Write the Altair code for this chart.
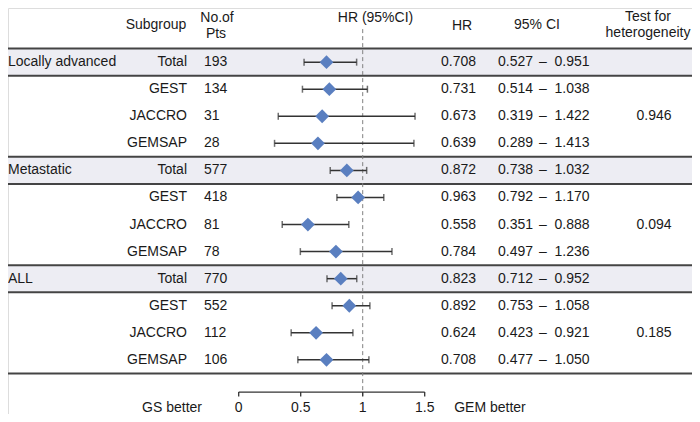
import altair as alt
import pandas as pd

# ---------------- data ----------------
groups = ["Locally advanced", "Metastatic", "ALL"]
subgroups = ["Total", "GEST", "JACCRO", "GEMSAP"]
n_pts = [193, 134, 31, 28, 577, 418, 81, 78, 770, 552, 112, 106]
hr = [0.708, 0.731, 0.673, 0.639, 0.872, 0.963, 0.558, 0.784, 0.823, 0.892, 0.624, 0.708]
ci_lo = [0.527, 0.514, 0.319, 0.289, 0.738, 0.792, 0.351, 0.497, 0.712, 0.753, 0.423, 0.477]
ci_hi = [0.951, 1.038, 1.422, 1.413, 1.032, 1.170, 0.888, 1.236, 0.952, 1.058, 0.921, 1.050]
het_p = ["0.946", "0.094", "0.185"]
axis_ticks = [0, 0.5, 1, 1.5]
axis_tick_labels = ["0", "0.5", "1", "1.5"]

rows = []
for gi, g in enumerate(groups):
    for si, s in enumerate(subgroups):
        k = gi * 4 + si
        rows.append(dict(
            row=k, group=g if si == 0 else "", sub=s, n=n_pts[k],
            hr=hr[k], lo=ci_lo[k], hi=ci_hi[k],
            het=het_p[gi] if si == 2 else "", total=(si == 0),
        ))
df = pd.DataFrame(rows)
tot = df[df["total"]].copy()
tot["y1"] = tot["row"] - 0.5
tot["y2"] = tot["row"] + 0.5
line_y = sorted(set(list(tot["y1"]) + list(tot["y2"]) + [len(df) - 0.5]))
lines_df = pd.DataFrame({"y": line_y})

W, H = 684, 406
FONT = "Liberation Sans"
FS = 14
TXT = "#1a1a1a"

xscale = alt.Scale(domain=[-1.8605, 3.6556], nice=False, zero=False)
yscale = alt.Scale(domain=[-2.0, 13.0], nice=False, zero=False, reverse=True)

AX_Y = 12.19
LAB_Y = 12.77

def Y(field):
    return alt.Y(field, type="quantitative", scale=yscale, axis=None)

def X(field):
    return alt.X(field, type="quantitative", scale=xscale, axis=None)

# bands for total rows
bands = alt.Chart(tot).mark_rect(color="#ededf3").encode(
    x=alt.value(0), x2=alt.value(W), y=Y("y1"), y2=alt.Y2("y2"))

hlines = alt.Chart(lines_df).mark_rule(color="#444444", strokeWidth=2).encode(
    x=alt.value(0), x2=alt.value(W), y=Y("y"))

dash_df = pd.DataFrame({"x": [1.0], "ya": [-1.22], "yb": [12.33]})
dashed = alt.Chart(dash_df).mark_rule(color="#808080", strokeWidth=1, strokeDash=[4, 3]).encode(
    x=X("x"), y=Y("ya"), y2=alt.Y2("yb"))

err = alt.Chart(df).mark_rule(color="#333333", strokeWidth=1.5).encode(
    x=X("lo"), x2=alt.X2("hi"), y=Y("row"))
cap_lo = alt.Chart(df).mark_tick(orient="vertical", size=7, thickness=1.5, color="#333333").encode(
    x=X("lo"), y=Y("row"))
cap_hi = alt.Chart(df).mark_tick(orient="vertical", size=7, thickness=1.5, color="#333333").encode(
    x=X("hi"), y=Y("row"))
diam = alt.Chart(df).mark_point(shape="diamond", filled=True, size=190, color="#5a7fc0", opacity=1).encode(
    x=X("hr"), y=Y("row"))

def col(field, xpx, align="center", fmt=None):
    t = alt.Text(field, format=fmt) if fmt else alt.Text(field)
    return alt.Chart(df).mark_text(align=align, baseline="middle", font=FONT, fontSize=FS, color=TXT).encode(
        x=alt.value(xpx), y=Y("row"), text=t)

c_group = col("group", 0, "left")
c_sub = col("sub", 179, "right")
c_n = col("n", 196, "left")
c_hr = col("hr", 450.5, "center", ".3f")
c_lo = col("lo", 507.5, "center", ".3f")
c_hi = col("hi", 564, "center", ".3f")
c_het = col("het", 646, "center")
c_dash = alt.Chart(df).mark_text(text="\u2013", align="center", baseline="middle", font=FONT,
                                 fontSize=FS, color=TXT).encode(x=alt.value(535), y=Y("row"))

headers = [
    ("Subgroup", 148, -1.36),
    ("No.of", 209, -1.63),
    ("Pts", 208, -1.03),
    ("HR (95%CI)", 367.5, -1.64),
    ("HR", 454, -1.33),
    ("95% CI", 529, -1.36),
    ("Test for", 640, -1.67),
    ("heterogeneity", 640, -1.08),
]
hdr_layers = []
for txt, xpx, yv in headers:
    hdf = pd.DataFrame({"y": [yv], "t": [txt]})
    hdr_layers.append(
        alt.Chart(hdf).mark_text(align="center", baseline="middle", font=FONT, fontSize=FS, color=TXT)
        .encode(x=alt.value(xpx), y=Y("y"), text="t:N"))

# bottom axis built from marks
ax_df = pd.DataFrame({"x1": [axis_ticks[0]], "x2": [axis_ticks[-1]], "y": [AX_Y]})
ax_line = alt.Chart(ax_df).mark_rule(color="#333333", strokeWidth=1.3).encode(
    x=X("x1"), x2=alt.X2("x2"), y=Y("y"))
tk_df = pd.DataFrame({"x": axis_ticks, "lab": axis_tick_labels, "y1": AX_Y, "y2": AX_Y + 0.16, "yl": LAB_Y})
ax_ticks = alt.Chart(tk_df).mark_rule(color="#333333", strokeWidth=1.3).encode(
    x=X("x"), y=Y("y1"), y2=alt.Y2("y2"))
ax_labs = alt.Chart(tk_df).mark_text(align="center", baseline="middle", font=FONT, fontSize=FS, color=TXT).encode(
    x=X("x"), y=Y("yl"), text="lab:N")
side_df = pd.DataFrame({"y": [LAB_Y]})
gs = alt.Chart(side_df).mark_text(text="GS better", align="center", baseline="middle", font=FONT,
                                  fontSize=FS, color=TXT).encode(x=alt.value(164), y=Y("y"))
gem = alt.Chart(side_df).mark_text(text="GEM better", align="center", baseline="middle", font=FONT,
                                   fontSize=FS, color=TXT).encode(x=alt.value(482), y=Y("y"))

chart = alt.layer(
    bands, hlines, dashed, err, cap_lo, cap_hi, diam,
    c_group, c_sub, c_n, c_hr, c_lo, c_dash, c_hi, c_het,
    *hdr_layers, ax_line, ax_ticks, ax_labs, gs, gem,
).properties(
    width=W, height=H, padding=0, autosize=alt.AutoSizeParams(type="none"),
).configure_view(stroke=None).configure(background="white")

chart.save("out.html", embed_options={"renderer": "svg", "actions": False})
